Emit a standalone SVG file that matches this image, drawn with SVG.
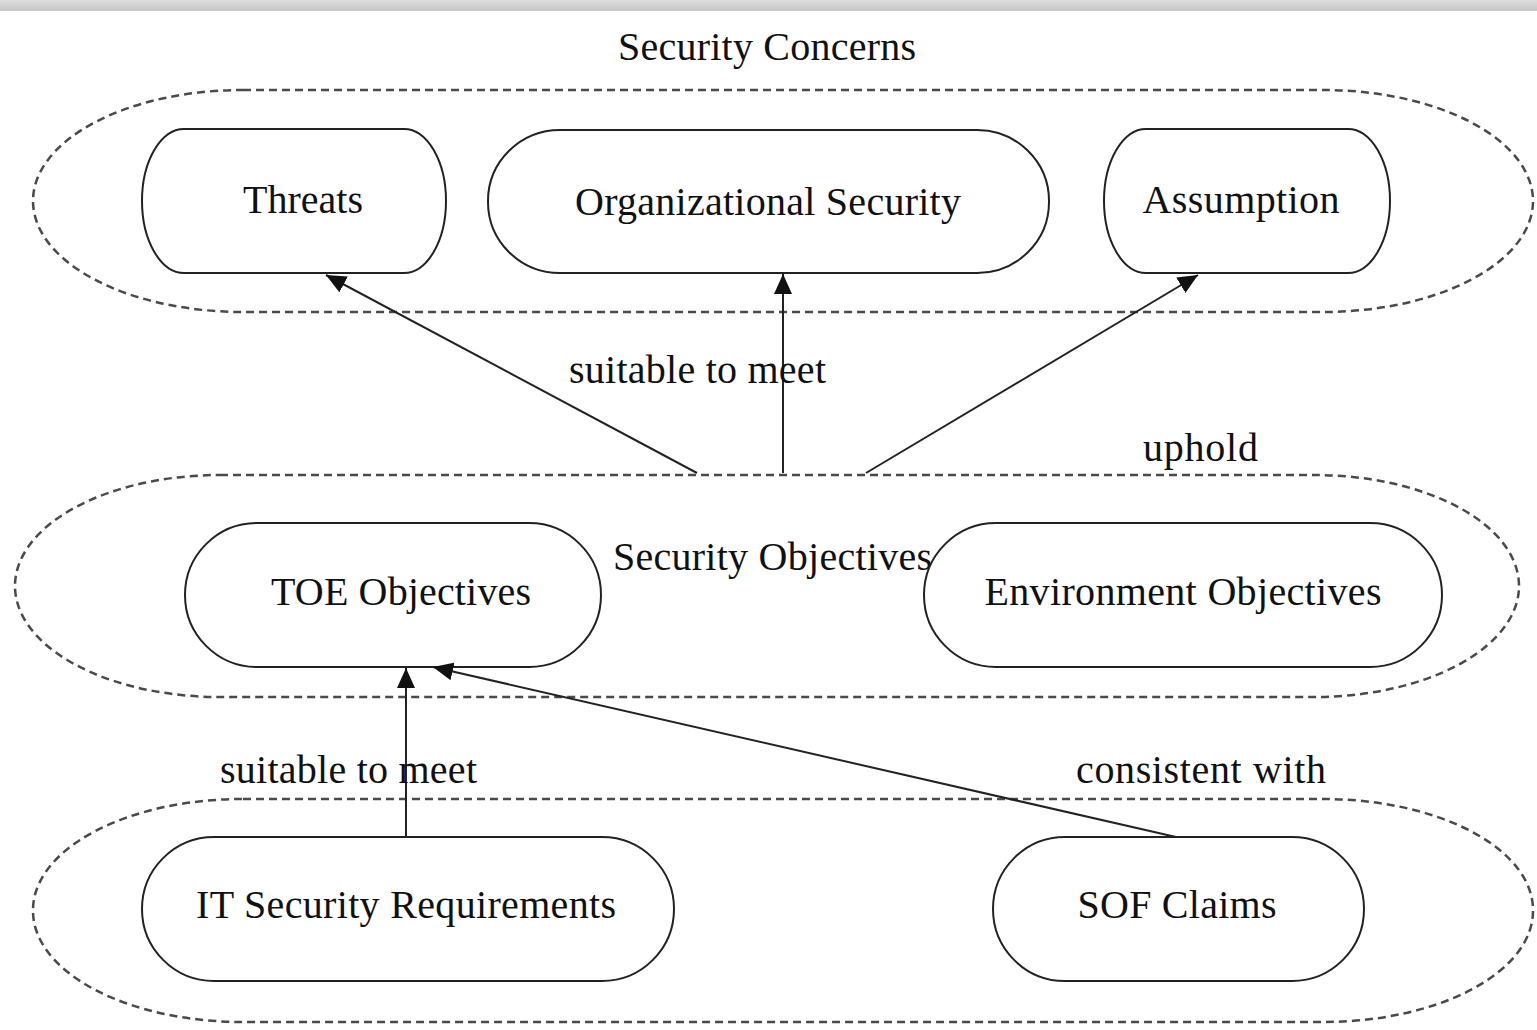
<svg xmlns="http://www.w3.org/2000/svg" width="1537" height="1030" viewBox="0 0 1537 1030">
  <defs>
    <linearGradient id="bar" x1="0" y1="0" x2="0" y2="1">
      <stop offset="0" stop-color="#dedede"/>
      <stop offset="1" stop-color="#c6c6c6"/>
    </linearGradient>
    <marker id="arrow" viewBox="0 0 20 18" refX="20" refY="9" markerWidth="20" markerHeight="18" markerUnits="userSpaceOnUse" orient="auto">
      <path d="M0,0 L20,9 L0,18 Z" fill="#111"/>
    </marker>
  </defs>
  <style>
    .lbl { font-family: "Liberation Serif", "Times New Roman", serif; font-size: 40px; fill: #111; }
    .node { fill: #fff; stroke: #222; stroke-width: 2; }
    .group { fill: none; stroke: #4a4a4a; stroke-width: 2.5; stroke-dasharray: 8 5; }
    .edge { fill: none; stroke: #222; stroke-width: 2; marker-end: url(#arrow); }
  </style>
  <rect x="0" y="0" width="1537" height="1030" fill="#fff"/>
  <rect x="0" y="0" width="1537" height="11" fill="url(#bar)"/>

  <g id="containers">
    <g id="security-concerns">
      <rect class="group" x="33" y="90" width="1500" height="222" rx="210" ry="111"/>
      <text class="lbl" x="767" y="60" text-anchor="middle" textLength="298">Security Concerns</text>
    </g>
    <g id="security-objectives">
      <rect class="group" x="15" y="475" width="1504" height="222" rx="205" ry="111"/>
      <text class="lbl" x="613" y="570" textLength="319">Security Objectives</text>
    </g>
    <g id="requirements-group">
      <rect class="group" x="33" y="799" width="1500" height="223" rx="210" ry="111"/>
    </g>
  </g>

  <g id="nodes">
    <g id="threats">
      <rect class="node" x="142" y="129" width="304" height="144" rx="42" ry="72"/>
      <text class="lbl" x="303" y="213" text-anchor="middle">Threats</text>
    </g>
    <g id="organizational-security">
      <rect class="node" x="488" y="130" width="561" height="143" rx="72" ry="71"/>
      <text class="lbl" x="768" y="215" text-anchor="middle" textLength="386">Organizational Security</text>
    </g>
    <g id="assumption">
      <rect class="node" x="1104" y="129" width="286" height="144" rx="42" ry="72"/>
      <text class="lbl" x="1241" y="213" text-anchor="middle" textLength="197">Assumption</text>
    </g>
    <g id="toe-objectives">
      <rect class="node" x="185" y="523" width="416" height="144" rx="72" ry="72"/>
      <text class="lbl" x="401" y="605" text-anchor="middle" textLength="260">TOE Objectives</text>
    </g>
    <g id="environment-objectives">
      <rect class="node" x="924" y="523" width="518" height="144" rx="72" ry="72"/>
      <text class="lbl" x="1183" y="605" text-anchor="middle" textLength="397">Environment Objectives</text>
    </g>
    <g id="it-security-requirements">
      <rect class="node" x="142" y="837" width="532" height="144" rx="72" ry="72"/>
      <text class="lbl" x="406" y="918" text-anchor="middle" textLength="420">IT Security Requirements</text>
    </g>
    <g id="sof-claims">
      <rect class="node" x="993" y="837" width="371" height="144" rx="72" ry="72"/>
      <text class="lbl" x="1177" y="918" text-anchor="middle" textLength="199">SOF Claims</text>
    </g>
  </g>

  <g id="connectors">
    <line class="edge" x1="697" y1="473" x2="326" y2="275"/>
    <line class="edge" x1="783" y1="473" x2="783" y2="274"/>
    <line class="edge" x1="866" y1="473" x2="1198" y2="275"/>
    <line class="edge" x1="406" y1="837" x2="406" y2="668"/>
    <line class="edge" x1="1176" y1="837" x2="433" y2="667"/>
    <text class="lbl" x="569" y="383" textLength="257">suitable to meet</text>
    <text class="lbl" x="1143" y="461" textLength="115">uphold</text>
    <text class="lbl" x="220" y="783" textLength="257">suitable to meet</text>
    <text class="lbl" x="1076" y="783" textLength="250">consistent with</text>
  </g>
</svg>
